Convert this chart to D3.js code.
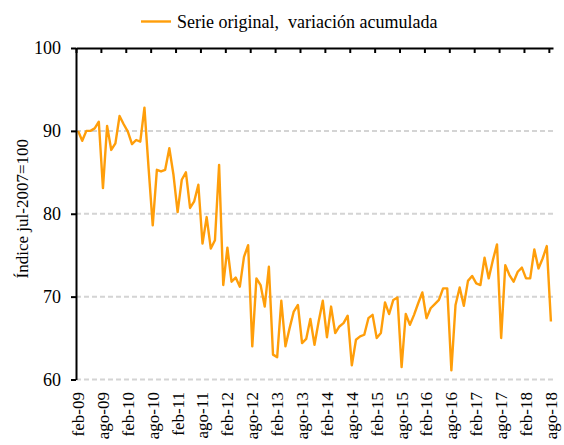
<!DOCTYPE html>
<html lang="es">
<head>
<meta charset="UTF-8">
<script src="https://cdnjs.cloudflare.com/ajax/libs/d3/7.9.0/d3.min.js"></script>
<style>
  body { margin: 0; background: #fff; }
  svg { display: block; }
</style>
</head>
<body>
<svg id="chart" width="564" height="445"></svg>
<script>
// indice mensual feb-09 .. ago-18 (jul-2007 = 100)
const values = [
  90.0, 88.8, 90.0, 90.0, 90.3, 91.1, 83.1, 90.6, 87.7, 88.5, 91.8, 90.8,
  89.9, 88.4, 88.9, 88.7, 92.8, 85.5, 78.6, 85.3, 85.1, 85.3, 87.9, 84.7,
  80.2, 84.1, 85.0, 80.7, 81.5, 83.5, 76.4, 79.6, 75.8, 76.8, 85.9, 71.4,
  75.9, 71.8, 72.3, 71.2, 74.8, 76.2, 64.0, 72.2, 71.4, 68.8, 73.6, 63.0,
  62.7, 69.5, 64.0, 66.2, 68.2, 69.0, 64.4, 64.9, 67.3, 64.2, 67.0, 69.5,
  65.1, 68.8, 65.6, 66.4, 66.8, 67.7, 61.7, 64.8, 65.2, 65.4, 67.4, 67.8,
  65.0, 65.6, 69.3, 67.9, 69.6, 69.9, 61.5, 67.9, 66.6, 67.8, 69.2, 70.5,
  67.4, 68.6, 69.1, 69.6, 71.0, 71.0, 61.1, 69.0, 71.1, 68.9, 71.9, 72.5,
  71.6, 71.4, 74.7, 72.2, 74.4, 76.3, 65.0, 73.8, 72.6, 71.8, 73.0, 73.5,
  72.2, 72.2, 75.7, 73.4, 74.6, 76.1, 67.0
];
const tickLabels = [
  "feb-09", "ago-09", "feb-10", "ago-10", "feb-11", "ago-11", "feb-12",
  "ago-12", "feb-13", "ago-13", "feb-14", "ago-14", "feb-15", "ago-15",
  "feb-16", "ago-16", "feb-17", "ago-17", "feb-18", "ago-18"
];
const yTicks = [60, 70, 80, 90, 100];
const seriesName = "Serie original,\u00a0 variación acumulada";
const yTitle = "Índice jul-2007=100";

const font = "Liberation Serif";
const svg = d3.select("#chart").attr("font-family", font);
const margin = { left: 76, right: 11, top: 48, bottom: 65.5 };
const W = 564, H = 445;
const color = "#ff9e0a";
const step = 6;

const x = d3.scaleBand()
  .domain(d3.range(values.length))
  .range([margin.left, W - margin.right]);
// boundaries between months, for the tick marks
const xb = d3.scaleLinear()
  .domain([0, values.length])
  .range([margin.left, W - margin.right]);
const y = d3.scaleLinear().domain([60, 100]).range([H - margin.bottom, margin.top]);

// grid lines
svg.append("g")
  .selectAll("line")
  .data(yTicks.filter(d => d < 100))
  .join("line")
  .attr("x1", margin.left)
  .attr("x2", W - margin.right)
  .attr("y1", d => y(d))
  .attr("y2", d => y(d))
  .attr("stroke", "#d4d4d4")
  .attr("stroke-width", 2)
  .attr("stroke-dasharray", "5,3");

// line
const line = d3.line()
  .x((d, i) => x(i) + x.bandwidth() / 2)
  .y(d => y(d));
svg.append("path")
  .datum(values)
  .attr("fill", "none")
  .attr("stroke", color)
  .attr("stroke-width", 2.4)
  .attr("stroke-linejoin", "round")
  .attr("d", line);

// top axis line (category axis crosses at 100)
const topAxis = svg.append("g")
  .attr("transform", `translate(0,${y(100)})`)
  .call(d3.axisBottom(xb)
    .tickValues(d3.range(0, values.length, step))
    .tickSize(5)
    .tickSizeOuter(0)
    .tickFormat(""));
topAxis.select(".domain").attr("stroke-width", 2);
topAxis.selectAll(".tick line").attr("stroke-width", 2);

// category labels at the bottom
const bottom = svg.append("g")
  .attr("transform", `translate(0,${y(60)})`)
  .call(d3.axisBottom(x)
    .tickValues(d3.range(0, values.length, step))
    .tickSize(0)
    .tickFormat((d, i) => tickLabels[i]))
  .attr("font-family", font)
  .attr("font-size", 17);
bottom.select(".domain").remove();
bottom.selectAll("text")
  .attr("transform", "rotate(-90)")
  .attr("text-anchor", "end")
  .attr("x", -12.5)
  .attr("y", 0)
  .attr("dy", "0.35em")
  .attr("fill", "#000");

// value axis
const left = svg.append("g")
  .attr("transform", `translate(${margin.left},0)`)
  .call(d3.axisLeft(y).tickValues(yTicks).tickSize(5).tickSizeOuter(0).tickPadding(10))
  .attr("font-family", font)
  .attr("font-size", 18);
left.select(".domain").attr("stroke-width", 2);
left.selectAll(".tick line").attr("stroke-width", 2);
left.selectAll("text").attr("fill", "#000");

// axis title
svg.append("text")
  .attr("transform", `translate(28,${(y(60) + y(100)) / 2 - 5}) rotate(-90)`)
  .attr("text-anchor", "middle")
  .attr("font-size", 17)
  .text(yTitle);

// legend
svg.append("line")
  .attr("x1", 141).attr("x2", 171)
  .attr("y1", 21.5).attr("y2", 21.5)
  .attr("stroke", color)
  .attr("stroke-width", 2.4);
svg.append("text")
  .attr("x", 177)
  .attr("y", 27.5)
  .attr("font-size", 18)
  .text(seriesName);
</script>
</body>
</html>
